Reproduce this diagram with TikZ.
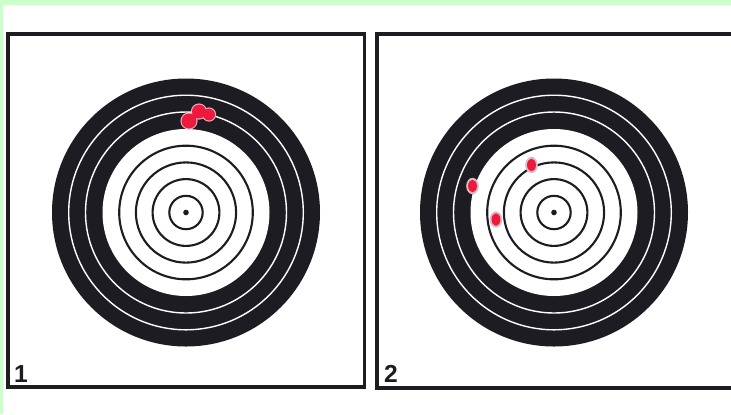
\documentclass[tikz,border=0pt]{standalone}
\usepackage{fontspec}
\setsansfont{Liberation Sans}
\usepackage{xcolor}
\usepackage{tikz}
\definecolor{mintbg}{HTML}{CCFFCC}
\definecolor{ringblack}{HTML}{1C1C22}
\definecolor{holered}{HTML}{EC1A3C}
\definecolor{holerim}{HTML}{F2B4C0}
\definecolor{tornrim}{HTML}{C8C8CC}

\begin{document}
\begin{tikzpicture}[x=0.02cm, y=-0.02cm]
    \useasboundingbox (0,0) rectangle (731,414);
    \fill[mintbg] (0,0) rectangle (731,414);
    \fill[white] (3,5) rectangle (731,414);

    % the two cards
    \draw[ringblack, line width=2.2pt] (8,34) rectangle (364.5,387);
    \draw[ringblack, line width=2.2pt] (731,34) -- (377,34) -- (377,388) -- (731,388);

    % targets
    \foreach \cx in {186,554} {
      \fill[ringblack] (\cx,212.5) circle[radius=134];
      \fill[white] (\cx,212.5) circle[radius=83.5];
      \foreach \r in {100.5,117.3}
        \draw[white, line width=0.8pt] (\cx,212.5) circle[radius=\r];
      \foreach \r in {16.7,33.4,50.1,66.8}
        \draw[ringblack, line width=1.2pt] (\cx,212.5) circle[radius=\r];
      \fill[ringblack] (\cx,212.5) circle[radius=2.8];
    }

    % card 1: tight group high in the black
    \fill[holerim] (189,121) circle[radius=8.6] (199,111.5) circle[radius=8.1]
                   (209,114.5) circle[radius=7.1];
    \fill[holered] (189,121) circle[radius=7.5] (199,111.5) circle[radius=7]
                   (209,114.5) circle[radius=6];

    % card 2: scattered shots
    \foreach \hx/\hy in {531.5/165, 472.5/186, 496/219.5} {
      \fill[tornrim] (\hx,\hy) ellipse[x radius=6.3, y radius=8.2];
      \fill[holerim] (\hx,\hy) ellipse[x radius=5.4, y radius=7.3];
      \fill[holered] (\hx,\hy) ellipse[x radius=4.4, y radius=6.3];
    }

    \node[font=\sffamily\bfseries\fontsize{14}{16}\selectfont, text=ringblack] (cardone) at (21,374) {1};
    \node[font=\sffamily\bfseries\fontsize{14}{16}\selectfont, text=ringblack] (cardtwo) at (391,374) {2};
  \end{tikzpicture}
\end{document}
